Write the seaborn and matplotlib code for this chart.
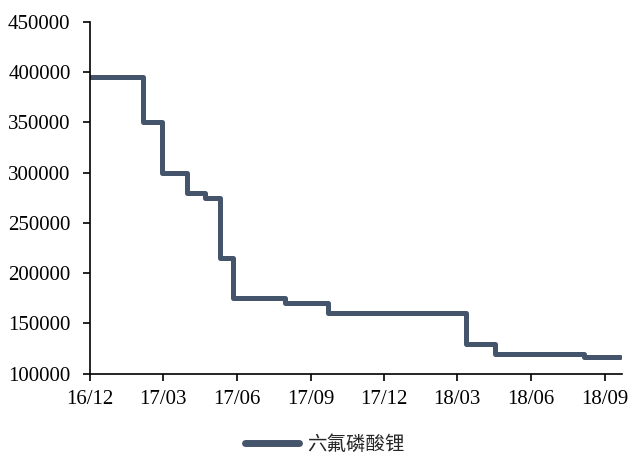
"""LiPF6 price step chart."""

import matplotlib
matplotlib.use("Agg")
import matplotlib.dates as mdates
import matplotlib.pyplot as plt
import pandas as pd
import seaborn as sns

# Price change points (yuan/ton)
dates = ['2016-12-01', '2017-02-05', '2017-02-28', '2017-03-31', '2017-04-23',
         '2017-05-11', '2017-05-27', '2017-07-31', '2017-09-22', '2018-03-12',
         '2018-04-18', '2018-08-06', '2018-09-20']
prices = [395000, 350000, 300000, 280000, 275000, 215000, 175000, 170000,
          160000, 130000, 120000, 117000, 117000]
series_name = '六氟磷酸锂'
tick_dates = ['2016-12-01', '2017-03-01', '2017-06-01', '2017-09-01',
              '2017-12-01', '2018-03-01', '2018-06-01', '2018-09-01']
y_ticks = [100000, 150000, 200000, 250000, 300000, 350000, 400000, 450000]

LINE_COLOR = '#44546a'


def main() -> None:
    sns.set_style('ticks')
    plt.rcParams['font.family'] = ['Liberation Serif', 'Noto Sans CJK SC']

    df = pd.DataFrame({'date': pd.to_datetime(dates), 'price': prices})

    fig = plt.figure(figsize=(6.33, 4.54), dpi=100)
    ax = fig.add_axes([0.1422, 0.1770, 0.8404, 0.7745])

    sns.lineplot(data=df, x='date', y='price', ax=ax, color=LINE_COLOR,
                 linewidth=3.6, drawstyle='steps-post', label=series_name,
                 solid_joinstyle='round', solid_capstyle='round', legend=False)

    ax.set_xlim(pd.Timestamp('2016-12-01'), pd.Timestamp('2018-09-22'))
    ax.set_ylim(100000, 450000)
    ax.set_yticks(y_ticks)
    ax.set_xticks(pd.to_datetime(tick_dates))
    ax.xaxis.set_major_formatter(mdates.DateFormatter('%y/%m'))
    ax.set_xlabel('')
    ax.set_ylabel('')

    sns.despine(ax=ax)
    for side in ['left', 'bottom']:
        ax.spines[side].set_color('black')
        ax.spines[side].set_linewidth(1.2)
    ax.tick_params(axis='both', direction='out', length=5, width=1.2,
                   labelsize=15, colors='black')
    ax.tick_params(axis='y', pad=9)
    ax.tick_params(axis='x', pad=7)

    handles, labels = ax.get_legend_handles_labels()
    leg = fig.legend(handles, labels, loc='center', bbox_to_anchor=(0.513, 0.022),
                     frameon=False, handlelength=2.8, handletextpad=0.4,
                     prop={'family': ['Noto Sans CJK SC'], 'size': 14})
    for line in leg.get_lines():
        line.set_linewidth(5)
        line.set_solid_capstyle('round')

    fig.savefig('out.png', dpi=100)
    plt.close(fig)


if __name__ == '__main__':
    main()
